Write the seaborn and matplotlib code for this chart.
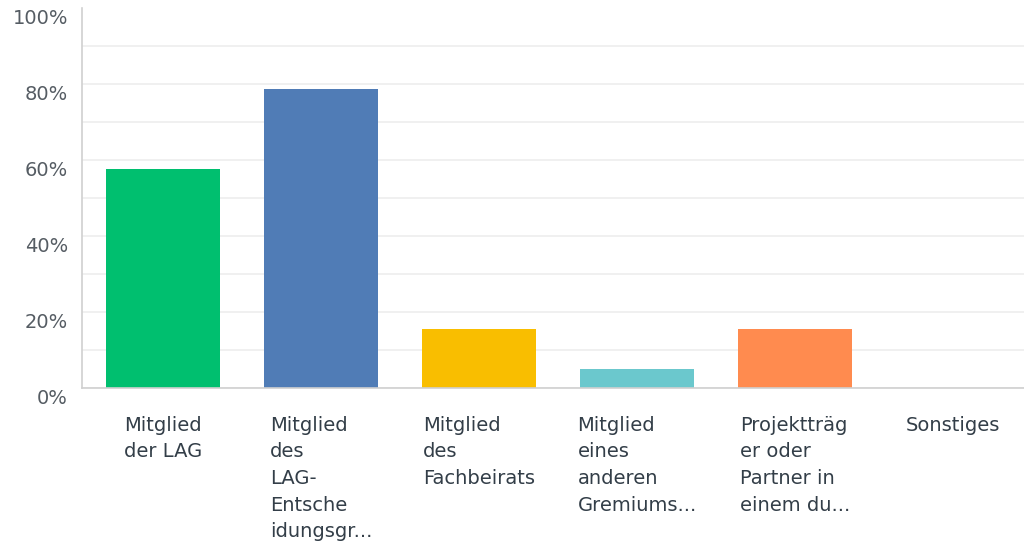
import matplotlib
matplotlib.use("Agg")
import matplotlib.pyplot as plt
import matplotlib.transforms as mtransforms
import seaborn as sns
import pandas as pd

CATEGORIES = [
    "Mitglied\nder LAG",
    "Mitglied\ndes\nLAG-\nEntsche\nidungsgr...",
    "Mitglied\ndes\nFachbeirats",
    "Mitglied\neines\nanderen\nGremiums...",
    "Projektträg\ner oder\nPartner in\neinem du...",
    "Sonstiges",
]
VALUES = [57.5, 78.7, 15.4, 4.9, 15.4, 0.0]
COLORS = ["#00bf6f", "#507cb6", "#f9be00", "#6bc8cd", "#ff8b4f", "#d25f90"]
Y_TICKS = [0, 20, 40, 60, 80, 100]
Y_LABELS = ["0%", "20%", "40%", "60%", "80%", "100%"]

sns.set_theme(style="white")
plt.rcParams["font.family"] = ["DejaVu Sans"]

df = pd.DataFrame({"cat": CATEGORIES, "val": VALUES})

fig = plt.figure(figsize=(10.24, 5.43), dpi=100)
ax = fig.add_axes([82 / 1024, 155 / 543, 942 / 1024, 380 / 543])

sns.barplot(data=df, x="cat", y="val", hue="cat", palette=COLORS,
            saturation=1, width=0.72, linewidth=0, legend=False, ax=ax)

ax.set_ylim(0, 100)
ax.set_xlim(-0.513, -0.513 + 942 / 158)
ax.set_yticks(Y_TICKS)
ax.set_yticklabels(Y_LABELS)
ax.set_yticks([10, 30, 50, 70, 90], minor=True)
ax.grid(True, axis="y", which="both", color="#eeeeee", linewidth=1.2, zorder=0)
ax.set_axisbelow(True)
for gl in ax.yaxis.get_gridlines():
    if abs(gl.get_ydata()[0] - 100) < 1e-6:
        gl.set_visible(False)

for s in ["top", "right"]:
    ax.spines[s].set_visible(False)
for s in ["left", "bottom"]:
    ax.spines[s].set_color("#d0d0d0")
    ax.spines[s].set_linewidth(1.2)

ax.set_xlabel("")
ax.set_ylabel("")
ax.tick_params(axis="x", length=0, pad=20, labelsize=14, labelcolor="#333e48")
ax.tick_params(axis="y", which="both", length=0, pad=10, labelsize=14, labelcolor="#555c63")

for lbl in ax.get_xticklabels():
    lbl.set_multialignment("left")
    lbl.set_linespacing(1.51)
    lbl.set_verticalalignment("top")

shift = mtransforms.ScaledTranslation(0, -9 / 100, fig.dpi_scale_trans)
for lbl in ax.get_yticklabels():
    lbl.set_transform(lbl.get_transform() + shift)

fig.savefig("out.png", dpi=100)
